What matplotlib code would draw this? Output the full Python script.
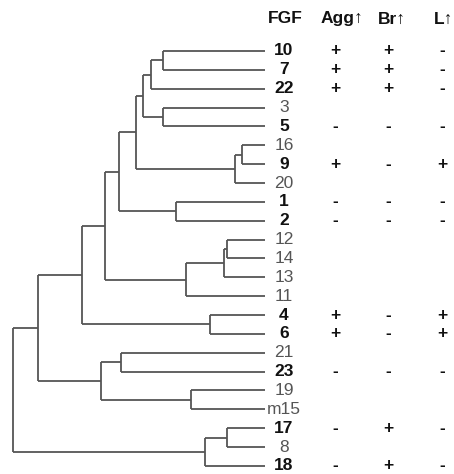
import matplotlib
matplotlib.use("Agg")
import matplotlib.pyplot as plt

# -----------------------------
# data
# -----------------------------
leaves = ["10", "7", "22", "3", "5", "16", "9", "20", "1", "2", "12", "14",
          "13", "11", "4", "6", "21", "23", "19", "m15", "17", "8", "18"]
bold_leaves = ["10", "7", "22", "5", "9", "1", "2", "4", "6", "23", "17", "18"]

# merges: (left, right, height); clusters named c0, c1, ... in order
merges = [
    ("10", "7", 0.405),
    ("c0", "22", 0.452),
    ("3", "5", 0.405),
    ("c1", "c2", 0.484),
    ("16", "9", 0.091),
    ("c4", "20", 0.119),
    ("c3", "c5", 0.512),
    ("1", "2", 0.353),
    ("c6", "c7", 0.579),
    ("12", "14", 0.151),
    ("c9", "13", 0.163),
    ("c10", "11", 0.313),
    ("c8", "c11", 0.635),
    ("4", "6", 0.218),
    ("c12", "c13", 0.726),
    ("21", "23", 0.571),
    ("19", "m15", 0.294),
    ("c15", "c16", 0.651),
    ("c14", "c17", 0.901),
    ("17", "8", 0.151),
    ("c19", "18", 0.238),
    ("c18", "c20", 1.0),
]

headers = ["FGF", "Agg\u2191", "Br\u2191", "L\u2191"]
agg = {"10": "+", "7": "+", "22": "+", "5": "-", "9": "+", "1": "-", "2": "-",
       "4": "+", "6": "+", "23": "-", "17": "-", "18": "-"}
br = {"10": "+", "7": "+", "22": "+", "5": "-", "9": "-", "1": "-", "2": "-",
      "4": "-", "6": "-", "23": "-", "17": "+", "18": "+"}
lng = {"10": "-", "7": "-", "22": "-", "5": "-", "9": "+", "1": "-", "2": "-",
       "4": "+", "6": "+", "23": "-", "17": "-", "18": "-"}

# -----------------------------
# layout
# -----------------------------
W, H = 454, 474
FONT = ["Liberation Sans", "DejaVu Sans"]
LINE = "#555555"
row0, row_step = 51, 18.86
ylim = ((H - row0) / row_step, -row0 / row_step)

fig = plt.figure(figsize=(W / 100, H / 100), dpi=100)

# tree axes
ax = fig.add_axes([13 / W, 0, 252 / W, 1])
ax.set_xlim(1.0, 0.0)
ax.set_ylim(*ylim)
ax.axis("off")

pos = {name: (0.0, i) for i, name in enumerate(leaves)}
for k, (a, b, h) in enumerate(merges):
    ha_, ya = pos[a]
    hb, yb = pos[b]
    kw = dict(color=LINE, lw=1.3, clip_on=False, solid_capstyle="butt")
    ax.plot([h, h], [ya, yb], **kw)
    ax.plot([ha_, h], [ya, ya], **kw)
    ax.plot([hb, h], [yb, yb], **kw)
    pos[f"c{k}"] = (h, (ya + yb) / 2)

# table axes (x in pixel units)
tx = fig.add_axes([265 / W, 0, (W - 265) / W, 1])
tx.set_xlim(265, W)
tx.set_ylim(*ylim)
tx.axis("off")

head_x = [285, 342, 392, 444]
col_x = [284, 335, 388, 442]
head_y = (19 - row0) / row_step

for x, t in zip(head_x, headers):
    tx.text(x, head_y, t, ha="center", va="center", fontsize=12.5,
            fontweight="bold", family=FONT, color="#111111")

for i, name in enumerate(leaves):
    is_bold = name in bold_leaves
    tx.text(col_x[0], i, name, ha="center", va="center", fontsize=12.5,
            fontweight="bold" if is_bold else "normal", family=FONT,
            color="#111111" if is_bold else "#555555")
    for x, col in zip(col_x[1:], [agg, br, lng]):
        if name in col:
            tx.text(x, i, col[name], ha="center", va="center", fontsize=12.5,
                    fontweight="bold", family=FONT, color="#111111")

fig.savefig("out.png", dpi=100)
plt.close(fig)
